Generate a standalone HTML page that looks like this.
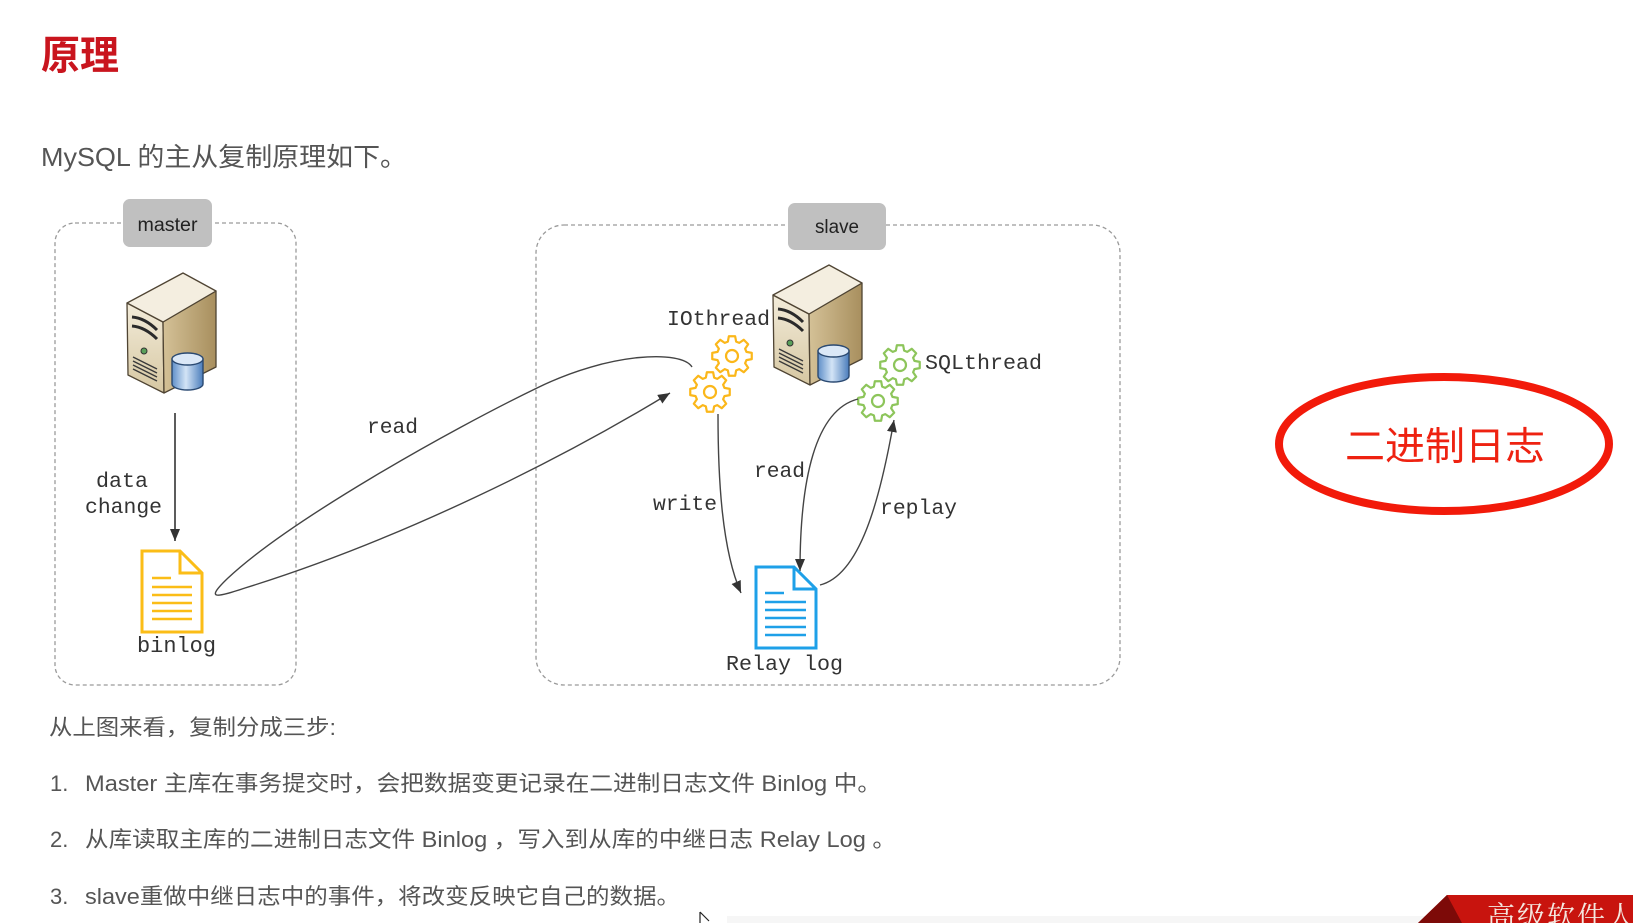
<!DOCTYPE html>
<html>
<head>
<meta charset="utf-8">
<style>
html,body{margin:0;padding:0;background:#fff;}
svg{display:block;}
.mono{font-family:"Liberation Mono","DejaVu Sans Mono",monospace;fill:#333;}
.cjk{font-family:"Liberation Sans","Noto Sans CJK SC",sans-serif;}
</style>
</head>
<body>
<svg width="1633" height="923" viewBox="0 0 1633 923" xmlns="http://www.w3.org/2000/svg">
<defs>
  <marker id="ah" markerWidth="12" markerHeight="10" refX="12" refY="5" orient="auto" markerUnits="userSpaceOnUse">
    <path d="M0,0 L12,5 L0,10 Z" fill="#333"/>
  </marker>
  <linearGradient id="frontG" x1="0" y1="0" x2="0" y2="1">
    <stop offset="0" stop-color="#f3ecda"/>
    <stop offset="1" stop-color="#d6c7a2"/>
  </linearGradient>
  <linearGradient id="sideG" x1="0" y1="0" x2="1" y2="0">
    <stop offset="0" stop-color="#d4c197"/>
    <stop offset="1" stop-color="#a88f5e"/>
  </linearGradient>
  <linearGradient id="cylG" x1="0" y1="0" x2="1" y2="0">
    <stop offset="0" stop-color="#5f8fc8"/>
    <stop offset="0.45" stop-color="#d3e4f6"/>
    <stop offset="1" stop-color="#4a7cbb"/>
  </linearGradient>
  <g id="srv">
    <polygon points="127,303 163,322 164,393 128,375" fill="url(#frontG)" stroke="#4f4433" stroke-width="1.3" stroke-linejoin="round"/>
    <polygon points="163,322 216,291 216,367 164,393" fill="url(#sideG)" stroke="#4f4433" stroke-width="1.3" stroke-linejoin="round"/>
    <polygon points="127,303 183,273 216,291 163,322" fill="#f4eee0" stroke="#4f4433" stroke-width="1.3" stroke-linejoin="round"/>
    <path d="M132,317 Q145,318 157,330" stroke="#2a2a2a" stroke-width="3" fill="none"/>
    <path d="M132,326 Q145,327 157,339" stroke="#2a2a2a" stroke-width="3" fill="none"/>
    <circle cx="144" cy="351" r="3" fill="#5aa05a" stroke="#333" stroke-width="1"/>
    <g stroke="#3a3a3a" stroke-width="1.4">
      <line x1="133" y1="357" x2="157" y2="369"/>
      <line x1="133" y1="361" x2="157" y2="373"/>
      <line x1="133" y1="365" x2="157" y2="377"/>
      <line x1="133" y1="369" x2="157" y2="381"/>
    </g>
    <path d="M172,359 L172,384 A15.5,6 0 0 0 203,384 L203,359 Z" fill="url(#cylG)" stroke="#2b4a72" stroke-width="1.4"/>
    <ellipse cx="187.5" cy="359" rx="15.5" ry="6" fill="#dbe8f7" stroke="#2b4a72" stroke-width="1.4"/>
  </g>
  <g id="gear">
    <polygon points="14.42,-4.13 19.75,-3.13 19.75,3.13 14.42,4.13 13.12,7.27 16.18,11.76 11.76,16.18 7.27,13.12 4.13,14.42 3.13,19.75 -3.13,19.75 -4.13,14.42 -7.27,13.12 -11.76,16.18 -16.18,11.76 -13.12,7.27 -14.42,4.13 -19.75,3.13 -19.75,-3.13 -14.42,-4.13 -13.12,-7.27 -16.18,-11.76 -11.76,-16.18 -7.27,-13.12 -4.13,-14.42 -3.13,-19.75 3.13,-19.75 4.13,-14.42 7.27,-13.12 11.76,-16.18 16.18,-11.76 13.12,-7.27" fill="#fff" stroke-width="2.2" stroke-linejoin="round"/>
    <circle cx="0" cy="0" r="6" fill="none" stroke-width="2.2"/>
  </g>
</defs>

<!-- Title -->
<text x="41" y="69" font-size="40" font-weight="bold" fill="#c9151e" class="cjk" textLength="78" lengthAdjust="spacingAndGlyphs">原理</text>
<text x="41" y="166" font-size="26" fill="#555" class="cjk" textLength="366" lengthAdjust="spacingAndGlyphs">MySQL 的主从复制原理如下。</text>

<!-- Master box -->
<rect x="55" y="223" width="241" height="462" rx="20" ry="20" fill="none" stroke="#9a9a9a" stroke-width="1.3" stroke-dasharray="4 3"/>
<rect x="123" y="199" width="89" height="48" rx="7" ry="7" fill="#c0c0c0"/>
<text x="167.5" y="231" font-size="19" fill="#222" text-anchor="middle" font-family="Liberation Sans, sans-serif" textLength="60" lengthAdjust="spacingAndGlyphs">master</text>

<!-- Slave box -->
<rect x="536" y="225" width="584" height="460" rx="28" ry="28" fill="none" stroke="#9a9a9a" stroke-width="1.3" stroke-dasharray="4 3"/>
<rect x="788" y="203" width="98" height="47" rx="7" ry="7" fill="#c0c0c0"/>
<text x="837" y="233" font-size="19" fill="#222" text-anchor="middle" font-family="Liberation Sans, sans-serif" textLength="44" lengthAdjust="spacingAndGlyphs">slave</text>

<!-- Servers -->
<use href="#srv"/>
<use href="#srv" transform="translate(646,-8)"/>

<!-- data change arrow -->
<line x1="175" y1="413" x2="175" y2="541" stroke="#333" stroke-width="1.6" marker-end="url(#ah)"/>
<text x="96" y="487" font-size="21" class="mono" textLength="52" lengthAdjust="spacingAndGlyphs">data</text>
<text x="85" y="513" font-size="21" class="mono" textLength="77" lengthAdjust="spacingAndGlyphs">change</text>

<!-- binlog doc -->
<g fill="none" stroke="#fbbd17" stroke-width="3" stroke-linejoin="miter">
  <path d="M142,551 L180,551 L202,573 L202,632 L142,632 Z"/>
  <path d="M180,551 L180,573 L202,573"/>
</g>
<g stroke="#fbbd17" stroke-width="2.6">
  <line x1="152" y1="578" x2="171" y2="578"/>
  <line x1="152" y1="587" x2="192" y2="587"/>
  <line x1="152" y1="595" x2="192" y2="595"/>
  <line x1="152" y1="603" x2="192" y2="603"/>
  <line x1="152" y1="611" x2="192" y2="611"/>
  <line x1="152" y1="619" x2="192" y2="619"/>
</g>
<text x="137" y="652" font-size="22" class="mono" textLength="79" lengthAdjust="spacingAndGlyphs">binlog</text>

<!-- Loop read curve -->
<path d="M692,367 C682,350 610,352 537,388 C450,430 290,520 228,578 C205,600 215,598 245,588 C400,540 560,460 670,393" fill="none" stroke="#444" stroke-width="1.4" marker-end="url(#ah)"/>
<text x="367" y="433" font-size="21" class="mono" textLength="51" lengthAdjust="spacingAndGlyphs">read</text>

<!-- Gears -->
<use href="#gear" transform="translate(732,356)" stroke="#fbb71a"/>
<use href="#gear" transform="translate(710,392)" stroke="#fbb71a"/>
<use href="#gear" transform="translate(900,365)" stroke="#8dc55b"/>
<use href="#gear" transform="translate(878,401)" stroke="#8dc55b"/>

<text x="667" y="325" font-size="21" class="mono" textLength="103" lengthAdjust="spacingAndGlyphs">IOthread</text>
<text x="925" y="369" font-size="21" class="mono" textLength="117" lengthAdjust="spacingAndGlyphs">SQLthread</text>

<!-- write arrow -->
<path d="M718,414 C718,480 722,550 741,593" fill="none" stroke="#444" stroke-width="1.4" marker-end="url(#ah)"/>
<text x="653" y="510" font-size="21" class="mono" textLength="64" lengthAdjust="spacingAndGlyphs">write</text>

<!-- read (slave) arrow -->
<path d="M858,399 C815,410 800,480 800,571" fill="none" stroke="#444" stroke-width="1.4" marker-end="url(#ah)"/>
<text x="754" y="477" font-size="21" class="mono" textLength="51" lengthAdjust="spacingAndGlyphs">read</text>

<!-- replay arrow -->
<path d="M820,585 C860,575 880,500 894,420" fill="none" stroke="#444" stroke-width="1.4" marker-end="url(#ah)"/>
<text x="880" y="514" font-size="21" class="mono" textLength="77" lengthAdjust="spacingAndGlyphs">replay</text>

<!-- Relay log doc -->
<g fill="none" stroke="#1ea0e8" stroke-width="3" stroke-linejoin="miter">
  <path d="M756,567 L794,567 L816,589 L816,648 L756,648 Z"/>
  <path d="M794,567 L794,589 L816,589"/>
</g>
<g stroke="#1ea0e8" stroke-width="2.6">
  <line x1="765" y1="593" x2="784" y2="593"/>
  <line x1="765" y1="602" x2="806" y2="602"/>
  <line x1="765" y1="610" x2="806" y2="610"/>
  <line x1="765" y1="618" x2="806" y2="618"/>
  <line x1="765" y1="627" x2="806" y2="627"/>
  <line x1="765" y1="635" x2="806" y2="635"/>
</g>
<text x="726" y="670" font-size="21" class="mono" textLength="117" lengthAdjust="spacingAndGlyphs">Relay log</text>

<!-- Red ellipse annotation -->
<ellipse cx="1444" cy="444" rx="165" ry="67" fill="none" stroke="#f21a0a" stroke-width="8"/>
<text x="1345" y="460" font-size="39" fill="#ee2211" class="cjk" textLength="200" lengthAdjust="spacingAndGlyphs">二进制日志</text>

<!-- Bottom text -->
<text x="49" y="735" font-size="22" fill="#555" class="cjk" textLength="287" lengthAdjust="spacingAndGlyphs">从上图来看，复制分成三步:</text>
<text x="50" y="791" font-size="22" fill="#555" class="cjk">1.</text>
<text x="85" y="791" font-size="22" fill="#555" class="cjk" textLength="796" lengthAdjust="spacingAndGlyphs">Master 主库在事务提交时，会把数据变更记录在二进制日志文件 Binlog 中。</text>
<text x="50" y="847" font-size="22" fill="#555" class="cjk">2.</text>
<text x="85" y="847" font-size="22" fill="#555" class="cjk" textLength="811" lengthAdjust="spacingAndGlyphs">从库读取主库的二进制日志文件 Binlog ，写入到从库的中继日志 Relay Log 。</text>
<text x="50" y="904" font-size="22" fill="#555" class="cjk">3.</text>
<text x="85" y="904" font-size="22" fill="#555" class="cjk" textLength="595" lengthAdjust="spacingAndGlyphs">slave重做中继日志中的事件，将改变反映它自己的数据。</text>

<!-- Bottom strip / cursor -->
<rect x="727" y="916" width="700" height="7" fill="#f6f6f6"/>
<path d="M700,912 L700,923 M700,912 L709,921" stroke="#222" stroke-width="1.2" fill="none"/>

<!-- Bottom banner -->
<polygon points="1447,895 1633,895 1633,923 1418,923" fill="#c8140e"/>
<polygon points="1447,895 1462,923 1418,923" fill="#7d0a08"/>
<text x="1487" y="926" font-size="28" fill="#f4e8e0" font-family="Liberation Serif, Noto Serif CJK SC, serif" letter-spacing="2">高级软件人</text>
</svg>
</body>
</html>
